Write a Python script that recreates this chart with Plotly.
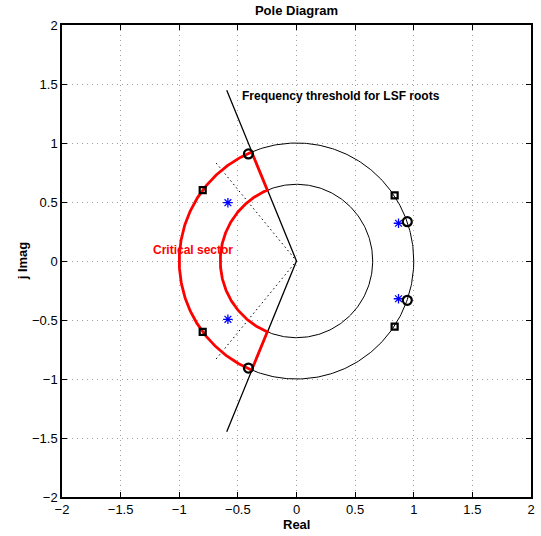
import numpy as np
import plotly.graph_objects as go

# ---- data ----
circle_radii = [1.0, 0.65]              # outer (unit) circle, inner threshold circle
sector_angles_deg = [112.5, 247.5]      # critical sector limits
threshold_line_x = [-0.595, 0.0, -0.595]
threshold_line_y = [1.447, 0.0, -1.447]
dotted_x = [[-0.685, 0.0], [-0.685, 0.0]]
dotted_y = [[0.83, 0.0], [-0.83, 0.0]]

poles_re = [0.87, 0.87, -0.585, -0.585]
poles_im = [0.32, -0.32, 0.494, -0.494]
lsf_p_re = [0.945, 0.945, -0.41, -0.41]
lsf_p_im = [0.333, -0.333, 0.907, -0.907]
lsf_q_re = [0.837, 0.837, -0.80, -0.80]
lsf_q_im = [0.556, -0.556, 0.60, -0.60]

tick_vals = [-2, -1.5, -1, -0.5, 0, 0.5, 1, 1.5, 2]

FONT = "Liberation Sans, Arial, Helvetica, sans-serif"

fig = go.Figure()

# full black circles
full = np.linspace(0, 2 * np.pi, 361)
for r in circle_radii:
    fig.add_trace(go.Scatter(x=r * np.cos(full), y=r * np.sin(full), mode="lines",
                             line=dict(color="black", width=1), hoverinfo="skip"))

# threshold line
fig.add_trace(go.Scatter(x=threshold_line_x, y=threshold_line_y, mode="lines",
                         line=dict(color="black", width=1.3), hoverinfo="skip"))

# dotted lines
for dx, dy in zip(dotted_x, dotted_y):
    fig.add_trace(go.Scatter(x=dx, y=dy, mode="lines",
                             line=dict(color="black", width=1, dash="1.5px,3px"),
                             hoverinfo="skip"))

# critical sector (red)
a0, a1 = np.deg2rad(sector_angles_deg[0]), np.deg2rad(sector_angles_deg[1])
arc = np.linspace(a0, a1, 200)
r_out, r_in = circle_radii
sx = np.concatenate([r_out * np.cos(arc), r_in * np.cos(arc[::-1]), [r_out * np.cos(a0)]])
sy = np.concatenate([r_out * np.sin(arc), r_in * np.sin(arc[::-1]), [r_out * np.sin(a0)]])
fig.add_trace(go.Scatter(x=sx, y=sy, mode="lines",
                         line=dict(color="#ff0000", width=2.8), hoverinfo="skip"))

# markers
fig.add_trace(go.Scatter(x=poles_re, y=poles_im, mode="markers",
                         marker=dict(symbol="asterisk-open", size=8, color="#0000ff",
                                     line=dict(color="#0000ff", width=1.3))))
fig.add_trace(go.Scatter(x=lsf_q_re, y=lsf_q_im, mode="markers",
                         marker=dict(symbol="square-open", size=6, color="black",
                                     line=dict(color="black", width=2.2))))
fig.add_trace(go.Scatter(x=lsf_p_re, y=lsf_p_im, mode="markers",
                         marker=dict(symbol="circle-open", size=9, color="black",
                                     line=dict(color="black", width=2.2))))

axis_common = dict(range=[-2, 2], tickvals=tick_vals, ticks="inside", ticklen=5,
                   tickcolor="black", showline=True, linecolor="black", linewidth=1.5,
                   mirror="ticks", showgrid=True, gridcolor="#a0a0a0", gridwidth=1,
                   griddash="1px,4px", zeroline=False,
                   tickfont=dict(family=FONT, size=13, color="black"))

fig.update_layout(
    width=541, height=536,
    margin=dict(l=62, r=6, t=25, b=39),
    paper_bgcolor="white", plot_bgcolor="white",
    showlegend=False,
    font=dict(family=FONT, color="black"),
    xaxis=dict(**axis_common),
    yaxis=dict(**axis_common),
    title=dict(text="<b>Pole Diagram</b>", x=0.5, xref="paper", y=1 - 10 / 536,
               yref="container", yanchor="middle", xanchor="center",
               font=dict(family=FONT, size=13, color="black")),
    annotations=[
        dict(text="<b>Real</b>", x=0.5, y=-(524 - 497) / 472, xref="paper", yref="paper",
             showarrow=False, font=dict(family=FONT, size=13, color="black"),
             xanchor="center", yanchor="middle"),
        dict(text="<b>j Imag</b>", x=-(62 - 22) / 473, y=0.5, xref="paper", yref="paper",
             showarrow=False, textangle=-90, font=dict(family=FONT, size=13, color="black"),
             xanchor="center", yanchor="middle"),
        dict(text="<b>Critical sector</b>", x=-1.24, y=0.09, xref="x", yref="y",
             showarrow=False, font=dict(family=FONT, size=12, color="#ff0000"),
             xanchor="left", yanchor="middle"),
        dict(text="<b>Frequency threshold for LSF roots</b>", x=-0.481, y=1.398,
             xref="x", yref="y", showarrow=False,
             font=dict(family=FONT, size=12, color="black"),
             xanchor="left", yanchor="middle"),
    ],
)

fig.write_html("out.html", config={"displayModeBar": False},
               post_script="document.body.style.margin='0';document.body.style.overflow='hidden';")
